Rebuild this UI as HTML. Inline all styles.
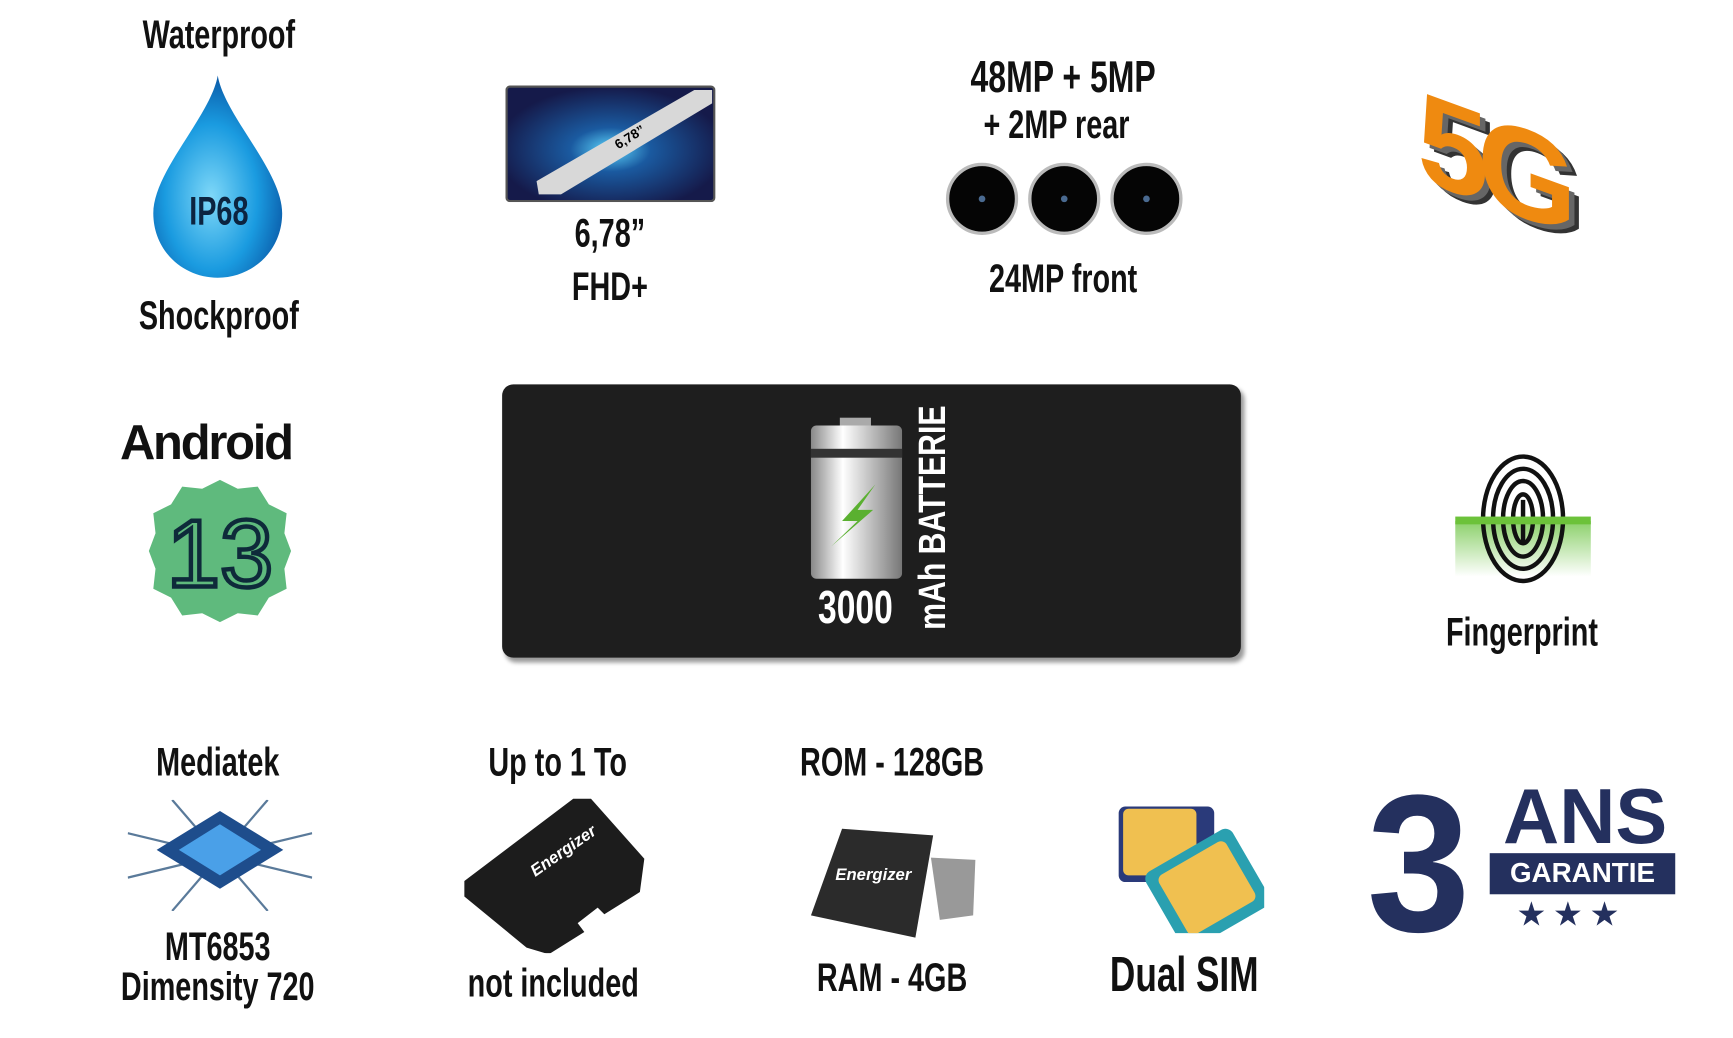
<!DOCTYPE html>
<html><head><meta charset="utf-8"><style>
html,body{margin:0;padding:0;background:#fff;width:1733px;height:1037px;overflow:hidden}
#w{position:absolute;left:0;top:0;width:1560px;height:934px;transform:scale(1.1109);transform-origin:0 0}
.t{position:absolute;font-family:"Liberation Sans Narrow","Liberation Sans",sans-serif;font-weight:bold;color:#111;white-space:nowrap;transform:translate(-50%,-50%) scaleX(0.72);line-height:1}
.a{position:absolute}
</style></head><body><div id="w">
<div class="t" style="left:197px;top:31px;font-size:36px">Waterproof</div>
<svg class="a" style="left:130px;top:64px" width="132" height="190"><defs><radialGradient id="dg" cx="45%" cy="60%" r="60%"><stop offset="0" stop-color="#7fd8f8"/><stop offset="0.6" stop-color="#1a9be0"/><stop offset="1" stop-color="#0a5aa8"/></radialGradient></defs><path d="M66 4 C60 40 8 90 8 128 C8 162 35 186 66 186 C97 186 124 162 124 128 C124 90 72 40 66 4Z" fill="url(#dg)"/></svg>
<div class="t" style="left:197px;top:190px;font-size:36px;color:#0c2440">IP68</div>
<div class="t" style="left:197px;top:284px;font-size:36px">Shockproof</div>
<svg class="a" style="left:455px;top:77px" width="189" height="105"><defs><radialGradient id="pg" cx="50%" cy="55%" r="55%"><stop offset="0" stop-color="#5fd8ff"/><stop offset="0.35" stop-color="#1a5aa0"/><stop offset="1" stop-color="#151a4a"/></radialGradient></defs><rect x="1" y="1" width="187" height="103" rx="3" fill="url(#pg)" stroke="#555" stroke-width="2"/><polygon points="30,98 50,98 186,16 186,4 170,4 28,86" fill="#d8d8d8"/><text x="100" y="58" font-size="12" font-family="Liberation Sans" font-weight="bold" transform="rotate(-32 100 55)">6,78”</text></svg>
<div class="t" style="left:549px;top:210px;font-size:36px">6,78”</div>
<div class="t" style="left:549px;top:258px;font-size:36px">FHD+</div>
<div class="t" style="left:957px;top:70px;font-size:40px">48MP + 5MP</div>
<div class="t" style="left:951px;top:112px;font-size:36px">+ 2MP rear</div>
<svg class="a" style="left:848px;top:144px" width="220" height="72"><g fill="#050505" stroke="#bbb" stroke-width="3"><circle cx="36" cy="35" r="31"/><circle cx="110" cy="35" r="31"/><circle cx="184" cy="35" r="31"/></g><g fill="#4a6a90"><circle cx="36" cy="35" r="3"/><circle cx="110" cy="35" r="3"/><circle cx="184" cy="35" r="3"/></g></svg>
<div class="t" style="left:957px;top:251px;font-size:36px">24MP front</div>
<div class="a" style="left:1276px;top:80px;font-family:'Liberation Sans',sans-serif;font-weight:bold;font-size:115px;color:#ef8a10;transform:skewY(20deg);letter-spacing:-10px;text-shadow:5px 3px 0 #666,9px 5px 0 #333">5G</div>
<div class="a" style="left:108px;top:374px;font-family:'Liberation Sans',sans-serif;font-weight:bold;font-size:44px;letter-spacing:-2px;color:#111">Android</div>
<svg class="a" style="left:132px;top:430px" width="132" height="132"><path d="M66 2 L82 10 L100 8 L110 24 L126 32 L124 50 L130 66 L124 82 L126 100 L110 108 L100 124 L82 122 L66 130 L50 122 L32 124 L22 108 L6 100 L8 82 L2 66 L8 50 L6 32 L22 24 L32 8 L50 10Z" fill="#5fba7d"/><text x="66" y="98" text-anchor="middle" font-family="Liberation Sans Narrow,Liberation Sans" font-size="86" fill="none" stroke="#0e2a3a" stroke-width="4">13</text></svg>
<div class="a" style="left:452px;top:346px;width:665px;height:246px;background:#1e1e1e;border-radius:10px;box-shadow:3px 4px 4px rgba(0,0,0,0.4)"></div>
<svg class="a" style="left:728px;top:374px" width="88" height="150"><defs><linearGradient id="bg" x1="0" x2="1"><stop offset="0" stop-color="#888"/><stop offset="0.35" stop-color="#fff"/><stop offset="1" stop-color="#777"/></linearGradient></defs><rect x="28" y="2" width="28" height="8" fill="#aaa"/><rect x="2" y="9" width="82" height="138" rx="5" fill="url(#bg)"/><rect x="2" y="30" width="82" height="8" fill="#333"/><polygon points="60,62 30,95 44,95 20,118 58,85 44,85" fill="#5ab030"/></svg>
<div class="t" style="left:770px;top:547px;font-size:42px;color:#fff">3000</div>
<div class="a" style="left:840px;top:466px;font-family:'Liberation Sans',sans-serif;font-weight:bold;font-size:34px;color:#fff;white-space:nowrap;transform:translate(-50%,-50%) rotate(-90deg) scaleX(0.8)">mAh BATTERIE</div>
<svg class="a" style="left:1308px;top:405px" width="126" height="125"><defs><linearGradient id="fg" y1="0" y2="1" x1="0" x2="0"><stop offset="0" stop-color="#8bd06a"/><stop offset="1" stop-color="#fff"/></linearGradient></defs><rect x="2" y="64" width="122" height="50" fill="url(#fg)"/><g fill="none" stroke="#111" stroke-width="4"><ellipse cx="63" cy="62" rx="36" ry="56"/><ellipse cx="63" cy="62" rx="27" ry="45"/><ellipse cx="63" cy="62" rx="18" ry="34"/><ellipse cx="63" cy="62" rx="9" ry="22"/><line x1="63" y1="45" x2="63" y2="85"/></g><rect x="2" y="60" width="122" height="7" fill="#6cc23a"/></svg>
<div class="t" style="left:1370px;top:569px;font-size:36px">Fingerprint</div>
<div class="t" style="left:196px;top:686px;font-size:36px">Mediatek</div>
<svg class="a" style="left:115px;top:720px" width="166" height="100"><g stroke="#5a7a9a" stroke-width="2"><line x1="0" y1="30" x2="166" y2="70"/><line x1="0" y1="70" x2="166" y2="30"/><line x1="40" y1="0" x2="126" y2="100"/><line x1="126" y1="0" x2="40" y2="100"/></g><polygon points="83,10 140,45 83,80 26,45" fill="#1e4d8c"/><polygon points="83,22 120,45 83,68 46,45" fill="#4aa0e8"/></svg>
<div class="t" style="left:196px;top:852px;font-size:36px">MT6853</div>
<div class="t" style="left:196px;top:888px;font-size:36px">Dimensity 720</div>
<div class="t" style="left:502px;top:686px;font-size:36px">Up to 1 To</div>
<svg class="a" style="left:416px;top:713px" width="166" height="145"><polygon points="2,80 100,6 116,6 164,60 160,90 128,110 122,104 104,118 110,126 78,146 58,140 2,94" fill="#1c1c1c"/><text x="60" y="72" fill="#fff" font-family="Liberation Sans" font-weight="bold" font-style="italic" font-size="15" transform="rotate(-35 70 65)">Energizer</text></svg>
<div class="t" style="left:498px;top:885px;font-size:36px">not included</div>
<div class="t" style="left:803px;top:686px;font-size:36px">ROM - 128GB</div>
<svg class="a" style="left:728px;top:744px" width="155" height="102"><polygon points="110,28 150,30 148,80 118,84" fill="#999"/><polygon points="30,2 112,8 96,100 2,80" fill="#2b2b2b"/><text x="24" y="48" fill="#fff" font-family="Liberation Sans" font-weight="bold" font-style="italic" font-size="15">Energizer</text></svg>
<div class="t" style="left:803px;top:880px;font-size:36px">RAM - 4GB</div>
<svg class="a" style="left:1003px;top:722px" width="135" height="118"><rect x="4" y="4" width="86" height="68" rx="6" fill="#2a3a7a"/><rect x="8" y="6" width="66" height="60" rx="5" fill="#f0c050"/><g transform="rotate(-30 85 80)"><rect x="40" y="38" width="90" height="80" rx="8" fill="#2aa0b0"/><rect x="50" y="46" width="70" height="62" rx="6" fill="#f0c050"/></g></svg>
<div class="t" style="left:1066px;top:878px;font-size:44px">Dual SIM</div>
<div class="a" style="left:1228px;top:690px;font-family:'Liberation Sans',sans-serif;font-weight:bold;font-size:176px;color:#24305e;line-height:1;transform:scaleX(0.95)">3</div>
<div class="a" style="left:1353px;top:700px;font-family:'Liberation Sans',sans-serif;font-weight:bold;font-size:70px;color:#24305e;line-height:1">ANS</div>
<div class="a" style="left:1341px;top:768px;width:167px;height:37px;background:#24305e;color:#fff;font-family:'Liberation Sans',sans-serif;font-weight:bold;font-size:25px;text-align:center;line-height:37px">GARANTIE</div>
<div class="a" style="left:1365px;top:806px;font-size:30px;color:#24305e;letter-spacing:6px">★★★</div>
</div></body></html>
